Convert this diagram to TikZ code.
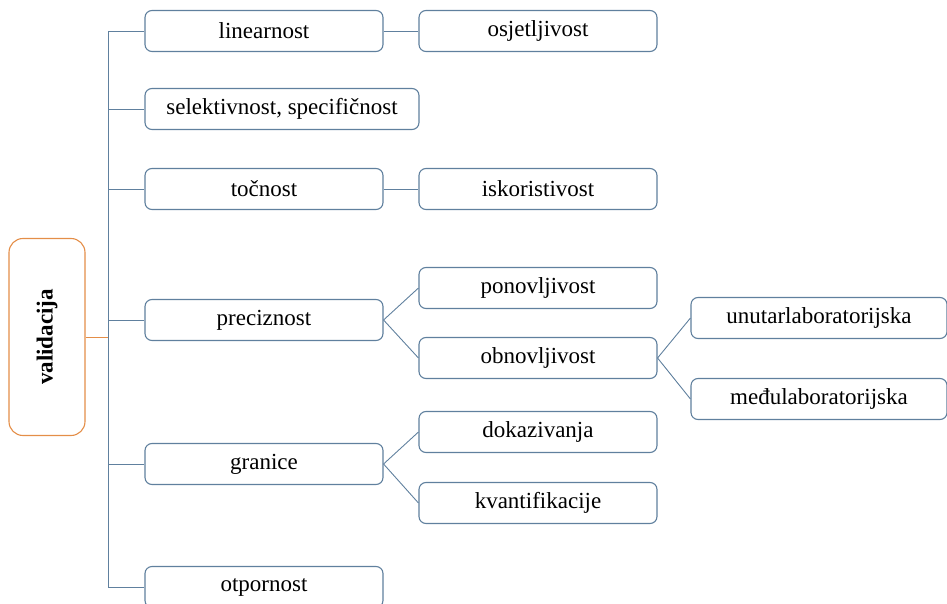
\documentclass[tikz,border=0pt]{standalone}
\usepackage{fontspec}
\setmainfont{Liberation Serif}
\definecolor{boxline}{RGB}{96,128,158}
\definecolor{rootline}{RGB}{228,142,72}
\begin{document}
\begin{tikzpicture}[x=1pt,y=-1pt,
        item/.style={draw=boxline, line width=1.1pt, rounded corners=7pt, fill=white,
                minimum width=238pt, minimum height=41pt, inner sep=0pt,
                font=\fontsize{23}{26}\selectfont},
        root/.style={draw=rootline, line width=1.1pt, rounded corners=14pt, rotate=90,
                minimum width=197pt, minimum height=76pt,
                font=\bfseries\fontsize{23}{26}\selectfont},
        link/.style={draw=boxline, line width=0.9pt}]
            \path[use as bounding box, clip] (0,0) rectangle (947,604);
            \node[root] (val) at (47,337) {validacija};
            \node[item] (lin) at (264,31) {linearnost};
            \node[item] (osj) at (538,31) {osjetljivost};
            \node[item, minimum width=274pt] (sel) at (282,109) {selektivnost, specifičnost};
            \node[item] (toc) at (264,189) {točnost};
            \node[item] (isk) at (538,189) {iskoristivost};
            \node[item] (pre) at (264,320) {preciznost};
            \node[item] (pon) at (538,288) {ponovljivost};
            \node[item] (obn) at (538,358) {obnovljivost};
            \node[item, minimum width=256pt] (unu) at (819,318) {unutarlaboratorijska};
            \node[item, minimum width=256pt] (med) at (819,399) {međulaboratorijska};
            \node[item] (gra) at (264,464) {granice};
            \node[item] (dok) at (538,432) {dokazivanja};
            \node[item] (kva) at (538,503) {kvantifikacije};
            \node[item] (otp) at (264,587) {otpornost};
            \coordinate (trunktop) at (108,31);
            \coordinate (trunkbot) at (108,587);
            \draw[link] (trunktop) -- (trunkbot);
            \draw[draw=rootline, line width=0.9pt] (val.south) -- (val.south -| trunktop);
            \foreach \n in {lin,sel,toc,pre,gra,otp} {
                    \draw[link] (\n.west -| trunktop) -- (\n.west);
                }
            \draw[link] (lin.east) -- (osj.west);
            \draw[link] (toc.east) -- (isk.west);
            \foreach \n in {pon,obn} {
                    \draw[link] (pre.east) -- (\n.west);
                }
            \foreach \n in {unu,med} {
                    \draw[link] (obn.east) -- (\n.west);
                }
            \foreach \n in {dok,kva} {
                    \draw[link] (gra.east) -- (\n.west);
                }
        \end{tikzpicture}
\end{document}
